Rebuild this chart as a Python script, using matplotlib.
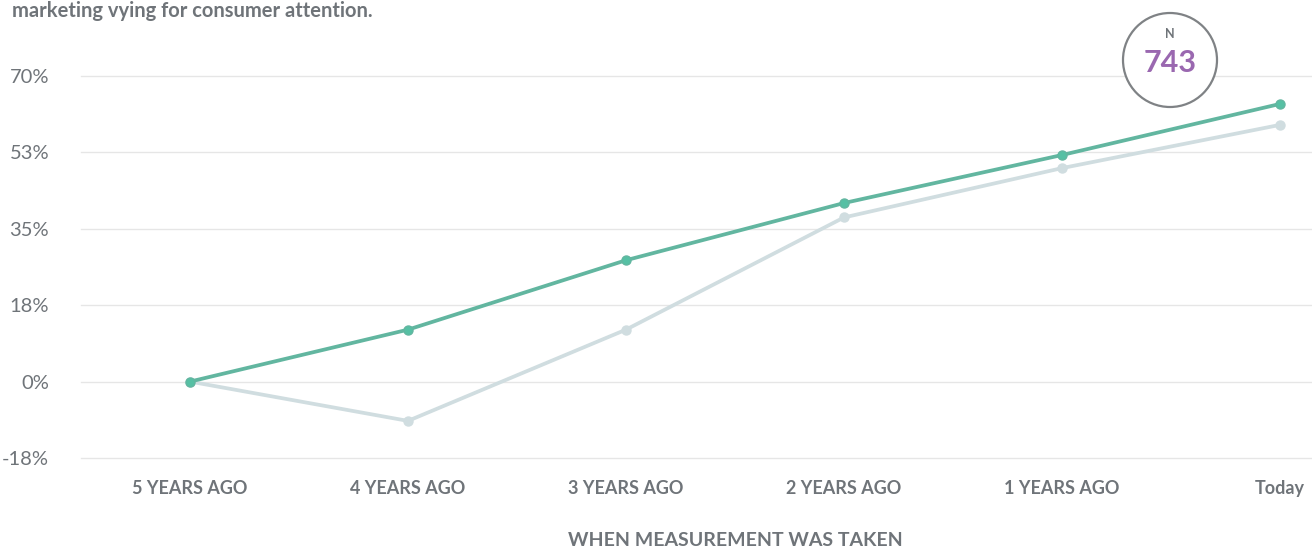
import matplotlib
matplotlib.use("Agg")
import matplotlib.pyplot as plt
from matplotlib.patches import Circle
from matplotlib.transforms import IdentityTransform

categories = ["5 YEARS AGO", "4 YEARS AGO", "3 YEARS AGO", "2 YEARS AGO", "1 YEARS AGO", "Today"]
series_green = [0.0, 11.9, 27.8, 40.9, 51.9, 63.6]
series_gray = [0.0, -9.0, 11.9, 37.6, 48.9, 58.8]
ytick_values = [-17.5, 0, 17.5, 35, 52.5, 70]
ytick_labels = ["-18%", "0%", "18%", "35%", "53%", "70%"]
n_value = "743"

plt.rcParams['font.family'] = ['Lato', 'DejaVu Sans']

W, H = 1312, 550
fig = plt.figure(figsize=(W / 100, H / 100), dpi=100)
left, right = 81, 1312
top, bottom = 76, 458
ax = fig.add_axes([left / W, 1 - bottom / H, (right - left) / W, (bottom - top) / H])

x = list(range(len(categories)))
ax.plot(x, series_gray, color="#d0dde0", lw=2.7, marker="o", ms=6.5, mec="#d0dde0", mfc="#d0dde0", clip_on=False, zorder=3)
ax.plot(x, series_green, color="#62b6a0", lw=2.7, marker="o", ms=6.5, mec="#62b6a0", mfc="#56c0a4", clip_on=False, zorder=4)

ax.set_xlim(-0.5, 5.147)
ax.set_ylim(-17.5, 70)
ax.set_yticks(ytick_values)
ax.set_yticklabels(ytick_labels)
ax.set_xticks(x)
ax.set_xticklabels(categories)
ax.grid(axis="y", color="#e6e6e6", lw=1)
for gl in ax.get_ygridlines():
    gl.set_clip_on(False)
ax.set_axisbelow(True)
for s in ax.spines.values():
    s.set_visible(False)
ax.tick_params(axis="both", length=0)
ax.tick_params(axis="y", labelsize=14.5, labelcolor="#6f7479", pad=23)
ax.tick_params(axis="x", labelsize=13, labelcolor="#6f7479", pad=16)
for lab in ax.get_xticklabels():
    lab.set_fontweight("bold")

fig.text(735 / W, 1 - 541 / H, "WHEN MEASUREMENT WAS TAKEN", fontsize=14, color="#6f7479",
         fontweight="bold", ha="center", va="center")

fig.text(12 / W, 1 - 17 / H, "marketing vying for consumer attention.", fontsize=14.5, color="#6f7479",
         fontweight="bold", ha="left", va="baseline")

circ = Circle((1170, H - 60), 47, transform=IdentityTransform(), fill=True, facecolor="white",
              edgecolor="#7f8285", lw=1.6, zorder=10)
fig.add_artist(circ)
fig.text(1170 / W, 1 - 34 / H, "N", fontsize=9, color="#6f7479", fontweight="bold", ha="center", va="center", zorder=11)
fig.text(1170 / W, 1 - 63 / H, n_value, fontsize=22, color="#9a68b0", fontweight="bold", ha="center", va="center", zorder=11)

fig.savefig("out.png", dpi=100)
